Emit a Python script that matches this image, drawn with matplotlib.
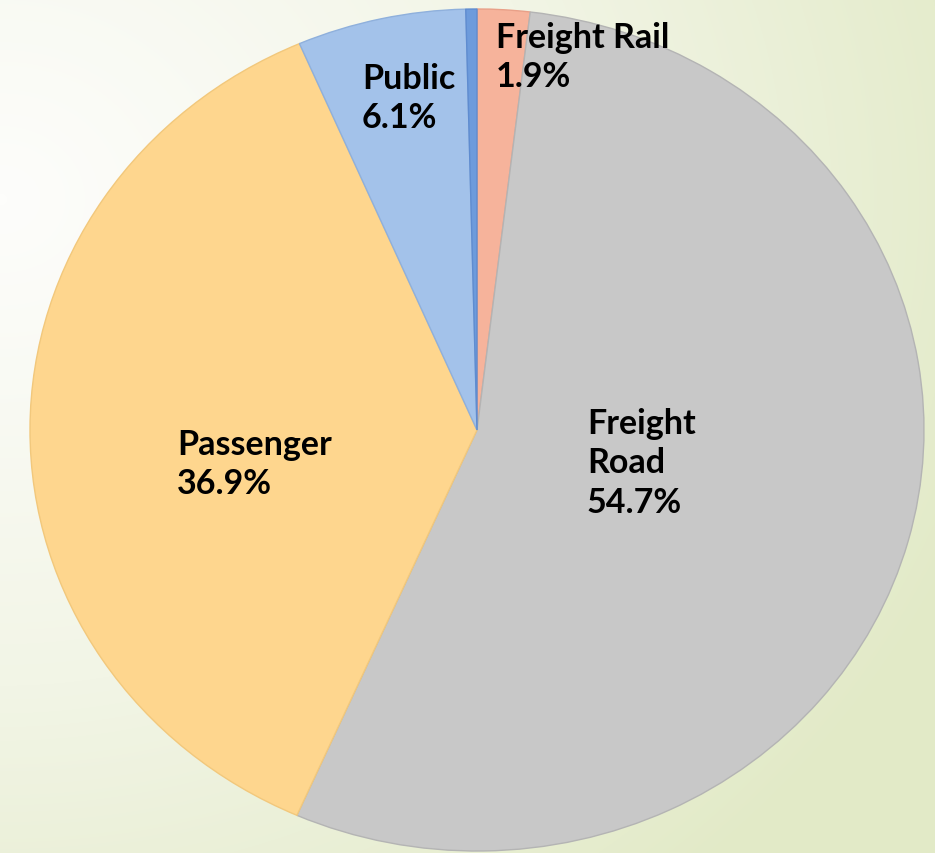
import numpy as np
import matplotlib
matplotlib.use("Agg")
import matplotlib.pyplot as plt
from matplotlib.colors import LinearSegmentedColormap

# Energy use by transport segment (share, %)
categories = ["Freight Rail", "Freight Road", "Passenger", "Public", "Other"]
shares = [1.9, 54.7, 36.9, 6.1, 0.4]
label_text = ["Freight Rail", "Freight\nRoad", "Passenger", "Public", None]

colors = ["#f6b39b", "#c8c8c8", "#fed68e", "#a3c2ea", "#6d9bdc"]
edges = ["#e9a088", "#b4b4b4", "#f2c87c", "#8fb0dc", "#5f8cd0"]

W, H = 935, 854
cx, cy = 477, 431          # pie centre in pixels
rx, ry = 447, 421          # horizontal / vertical radius in pixels

fig = plt.figure(figsize=(W / 100, H / 100), dpi=100)

# soft white-to-green background
bg = fig.add_axes([0, 0, 1, 1])
yy, xx = np.mgrid[0:H, 0:W]
d = np.hypot(xx - 0, (yy - 200) * 1.15) / 1050.0
d = np.clip(d, 0, 1) ** 1.1
cmap = LinearSegmentedColormap.from_list("bg", ["#fdfdfb", "#f2f5e6", "#e2eac7"])
bg.imshow(d, cmap=cmap, extent=[0, W, H, 0], aspect="auto", interpolation="bilinear")
bg.set_xlim(0, W)
bg.set_ylim(H, 0)
bg.axis("off")

ax = fig.add_axes([0, 0, 1, 1])
ax.patch.set_alpha(0)
wedges, _ = ax.pie(
    shares,
    colors=colors,
    startangle=90,
    counterclock=False,
    radius=1,
    center=(0, 0),
    wedgeprops=dict(linewidth=1.0),
)
for w, ec in zip(wedges, edges):
    w.set_edgecolor(ec)
ax.set_aspect("auto")
ax.set_xlim(-cx / rx, (W - cx) / rx)
ax.set_ylim((cy - H) / ry, cy / ry)
ax.axis("off")

# label anchors (top-left corner of each text block, pixels)
label_pos = [(496, 22), (587, 408), (177, 429), (362, 63), None]

for name, val, pos in zip(label_text, shares, label_pos):
    if name is None:
        continue
    px, py = pos
    ax.text(
        (px - cx) / rx, (cy - py) / ry,
        f"{name}\n{val:.1f}%",
        ha="left", va="top",
        fontsize=24.5, fontweight="bold", family="Lato",
        color="black", linespacing=1.28,
    )

fig.savefig("out.png", dpi=100)
